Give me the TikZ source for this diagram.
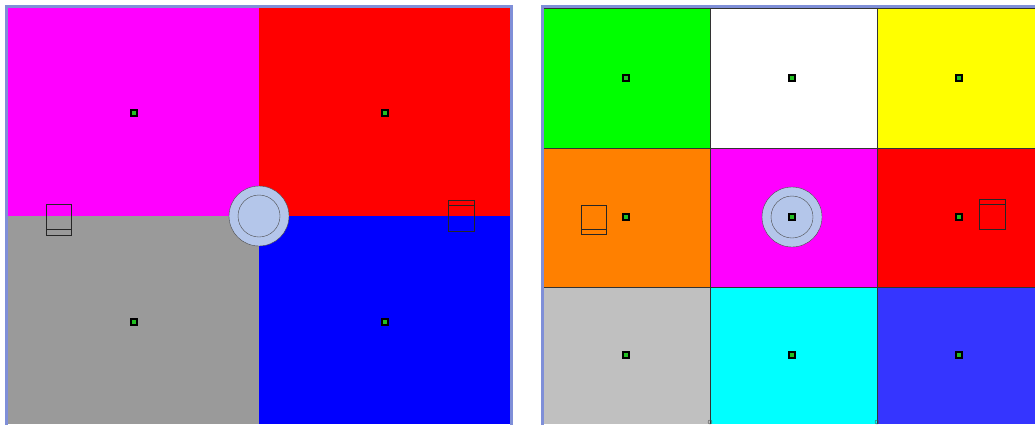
\documentclass[tikz,border=0pt]{standalone}
\usepackage{tikz}
\definecolor{frameBlue}{HTML}{7F8FD8}
\definecolor{hubFill}{HTML}{B4C6EA}
\definecolor{tileMagenta}{HTML}{FF00FF}
\definecolor{tileRed}{HTML}{FF0000}
\definecolor{tileBlue}{HTML}{0000FF}
\definecolor{tileGreen}{HTML}{00FF00}
\definecolor{tileYellow}{HTML}{FFFF00}
\definecolor{tileCyan}{HTML}{00FFFF}
\definecolor{tileGray}{HTML}{9A9A9A}
\definecolor{tileSilver}{HTML}{C0C0C0}
\definecolor{tileOrange}{HTML}{FF8000}
\definecolor{tileIndigo}{HTML}{3535FF}
\definecolor{dotGreen}{HTML}{22C022}

\begin{document}
\begin{tikzpicture}[
    x=1pt, y=-1pt,
    dot/.style={draw=black, fill=dotGreen, line width=1.4pt, minimum size=6pt, inner sep=0pt},
    hub/.style={circle, draw=black!70, fill=hubFill, minimum size=60pt, inner sep=0pt, thin},
    hubring/.style={circle, draw=black!70, minimum size=42pt, inner sep=0pt, thin},
    grid/.style={draw=black!80, line width=0.8pt},
    door/.style={draw=black!85, line width=0.6pt},
    frame/.style={draw=frameBlue, line width=3pt},
  ]
    \useasboundingbox (0,0) rectangle (1035,424);

    % left panel, four rooms
    \fill[tileMagenta] (8,8)     rectangle (259,216);
    \fill[tileRed]     (259,8)   rectangle (511,216);
    \fill[tileGray]    (8,216)   rectangle (259,424);
    \fill[tileBlue]    (259,216) rectangle (511,424);
    \draw[frame] (6.5,430) -- (6.5,6.5) -- (511.5,6.5) -- (511.5,430);

    \foreach \x/\y [count=\i] in {134/113, 385/113, 134/322, 385/322}
      \node[dot] (ldot\i) at (\x,\y) {};

    \node[hub] (lhub) at (259,216) {};
    \node[hubring] (lring) at (259,216) {};

    \draw[door] (46,204) rectangle (71,235);
    \draw[door] (46,229) -- (71,229);
    \draw[door] (448,200) rectangle (474,231);
    \draw[door] (448,205) -- (474,205);

    % right panel, nine rooms
    \fill[tileGreen]   (544,8)   rectangle (710,148);
    \fill[white]       (710,8)   rectangle (877,148);
    \fill[tileYellow]  (877,8)   rectangle (1035,148);
    \fill[tileOrange]  (544,148) rectangle (710,287);
    \fill[tileMagenta] (710,148) rectangle (877,287);
    \fill[tileRed]     (877,148) rectangle (1035,287);
    \fill[tileSilver]  (544,287) rectangle (710,424);
    \fill[tileCyan]    (710,287) rectangle (877,424);
    \fill[tileIndigo]  (877,287) rectangle (1035,424);

    \draw[grid] (710,8) -- (710,424);
    \draw[grid] (877,8) -- (877,424);
    \draw[grid] (544,148) -- (1035,148);
    \draw[grid] (544,287) -- (1035,287);
    \draw[grid] (544,8) -- (1035,8);
    \draw[draw=black!80, line width=1pt] (543.5,8) -- (543.5,430);
    \draw[frame] (542,430) -- (542,6.5) -- (1040,6.5);

    \foreach \x/\y [count=\i] in {626/78, 792/78, 959/78, 626/217, 959/217, 626/355, 792/355, 959/355}
      \node[dot] (rdot\i) at (\x,\y) {};

    \node[hub] (rhub) at (792,217) {};
    \node[hubring] (rring) at (792,217) {};
    \node[dot] (rdot9) at (792,217) {};

    \draw[door] (581,205) rectangle (606,234);
    \draw[door] (581,229) -- (606,229);
    \draw[door] (979,199) rectangle (1005,229);
    \draw[door] (979,204) -- (1005,204);

    \draw[black!70, thin] (710,422) circle (2);
    \draw[black!70, thin] (877,422) circle (2);
  \end{tikzpicture}
\end{document}
